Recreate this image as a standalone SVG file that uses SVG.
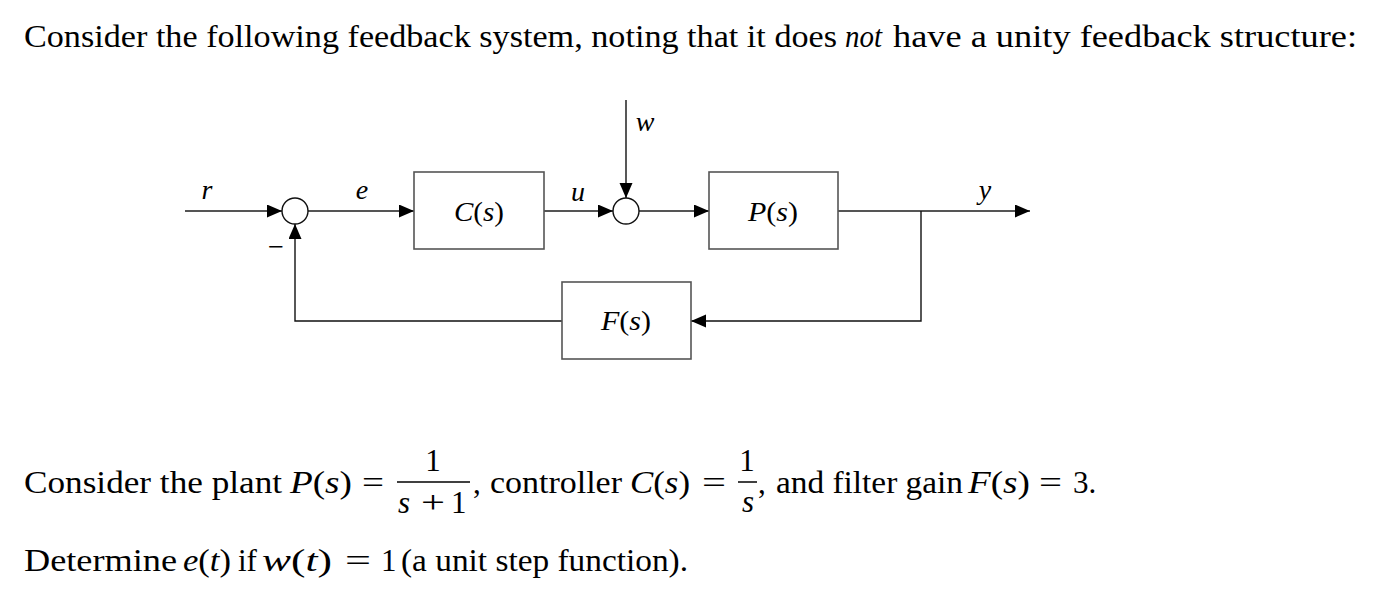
<svg xmlns="http://www.w3.org/2000/svg" width="1386" height="596" viewBox="0 0 1386 596">
<style>
.para{font-family:"Liberation Serif","DejaVu Serif",serif;font-size:31px;fill:#000}
.math{font-family:"Liberation Serif","DejaVu Serif",serif;font-size:31px;fill:#000}
.lbl{font-family:"Liberation Serif","DejaVu Serif",serif;font-size:28px;fill:#000}
.it{font-style:italic}
.box{fill:#fff;stroke:#555;stroke-width:1.6}
.sum{fill:#fff;stroke:#111;stroke-width:1.4}
.fwd{fill:none;stroke:#555;stroke-width:2}
.fb{fill:none;stroke:#111;stroke-width:1.4}
</style>
<defs>
<marker id="ah" markerUnits="userSpaceOnUse" markerWidth="16" markerHeight="14" refX="15" refY="6.5" orient="auto">
<path d="M0,0 L15,6.5 L0,13 z" fill="#000"/>
</marker>
</defs>
<rect width="1386" height="596" fill="#fff"/>

<text class="para" y="47"><tspan x="24" textLength="813" lengthAdjust="spacingAndGlyphs">Consider the following feedback system, noting that it does</tspan><tspan x="845" class="it" textLength="37" lengthAdjust="spacingAndGlyphs">not</tspan><tspan x="893" textLength="464" lengthAdjust="spacingAndGlyphs">have a unity feedback structure:</tspan></text>

<g id="connectors">
<path class="fwd" d="M185,211 H282" marker-end="url(#ah)"/>
<path class="fwd" d="M308,211 H414" marker-end="url(#ah)"/>
<path class="fwd" d="M544,211 H613" marker-end="url(#ah)"/>
<path class="fb" d="M626,100 V198" marker-end="url(#ah)"/>
<path class="fwd" d="M639,211 H709" marker-end="url(#ah)"/>
<path class="fwd" d="M838,211 H1030" marker-end="url(#ah)"/>
<path class="fb" d="M921,211 V321 H691" marker-end="url(#ah)"/>
<path class="fb" d="M562,321 H295 V224" marker-end="url(#ah)"/>
</g>

<g id="labels">
<text class="lbl it" x="207" y="199" text-anchor="middle">r</text>
<text class="lbl it" x="362" y="199" text-anchor="middle">e</text>
<text class="lbl it" x="578" y="201" text-anchor="middle">u</text>
<text class="lbl it" x="645" y="131" text-anchor="middle">w</text>
<text class="lbl it" x="985" y="199" text-anchor="middle">y</text>
<text class="lbl" x="268" y="256" textLength="16" lengthAdjust="spacingAndGlyphs">−</text>
</g>

<g id="sum1"><circle class="sum" cx="295" cy="211" r="13"/></g>
<g id="sum2"><circle class="sum" cx="626" cy="211" r="13"/></g>

<g id="C">
<rect class="box" x="414" y="172" width="130" height="77"/>
<text class="lbl" x="454" y="221" textLength="50" lengthAdjust="spacingAndGlyphs"><tspan class="it">C</tspan>(<tspan class="it">s</tspan>)</text>
</g>
<g id="P">
<rect class="box" x="709" y="172" width="129" height="77"/>
<text class="lbl" x="748" y="221" textLength="50" lengthAdjust="spacingAndGlyphs"><tspan class="it">P</tspan>(<tspan class="it">s</tspan>)</text>
</g>
<g id="F">
<rect class="box" x="562" y="282" width="129" height="77"/>
<text class="lbl" x="601" y="330" textLength="50" lengthAdjust="spacingAndGlyphs"><tspan class="it">F</tspan>(<tspan class="it">s</tspan>)</text>
</g>

<g id="eq">
<text class="para" x="24" y="493" textLength="258" lengthAdjust="spacingAndGlyphs">Consider the plant</text>
<text class="math" x="290" y="493" textLength="62" lengthAdjust="spacingAndGlyphs"><tspan class="it">P</tspan>(<tspan class="it">s</tspan>)</text>
<text class="math" x="362" y="493" textLength="22" lengthAdjust="spacingAndGlyphs">=</text>
<text class="math" x="433" y="471" text-anchor="middle">1</text>
<line x1="397" y1="482" x2="470" y2="482" stroke="#000" stroke-width="1.5"/>
<text class="math it" x="398" y="513">s</text>
<text class="math" x="421" y="513" textLength="24" lengthAdjust="spacingAndGlyphs">+</text>
<text class="math" x="451" y="513">1</text>
<text class="para" x="473" y="493">,</text>
<text class="para" x="490" y="493" textLength="132" lengthAdjust="spacingAndGlyphs">controller</text>
<text class="math" x="630" y="493" textLength="60" lengthAdjust="spacingAndGlyphs"><tspan class="it">C</tspan>(<tspan class="it">s</tspan>)</text>
<text class="math" x="702" y="493" textLength="24" lengthAdjust="spacingAndGlyphs">=</text>
<text class="math" x="747" y="471" text-anchor="middle">1</text>
<line x1="738" y1="482" x2="757" y2="482" stroke="#000" stroke-width="1.5"/>
<text class="math it" x="748" y="512" text-anchor="middle">s</text>
<text class="para" x="758" y="493">,</text>
<text class="para" x="776" y="493" textLength="187" lengthAdjust="spacingAndGlyphs">and filter gain</text>
<text class="math" x="968" y="493" textLength="62" lengthAdjust="spacingAndGlyphs"><tspan class="it">F</tspan>(<tspan class="it">s</tspan>)</text>
<text class="math" x="1039" y="493" textLength="23" lengthAdjust="spacingAndGlyphs">=</text>
<text class="para" x="1073" y="493">3.</text>
</g>

<g id="question">
<text class="para" x="24" y="571" textLength="153" lengthAdjust="spacingAndGlyphs">Determine</text>
<text class="math" x="183" y="571" textLength="48" lengthAdjust="spacingAndGlyphs"><tspan class="it">e</tspan>(<tspan class="it">t</tspan>)</text>
<text class="para" x="238" y="571">if</text>
<text class="math" x="262" y="571" textLength="70" lengthAdjust="spacingAndGlyphs"><tspan class="it">w</tspan>(<tspan class="it">t</tspan>)</text>
<text class="math" x="345" y="571" textLength="26" lengthAdjust="spacingAndGlyphs">=</text>
<text class="para" x="381" y="571">1</text>
<text class="para" x="401" y="571" textLength="287" lengthAdjust="spacingAndGlyphs">(a unit step function).</text>
</g>
</svg>
